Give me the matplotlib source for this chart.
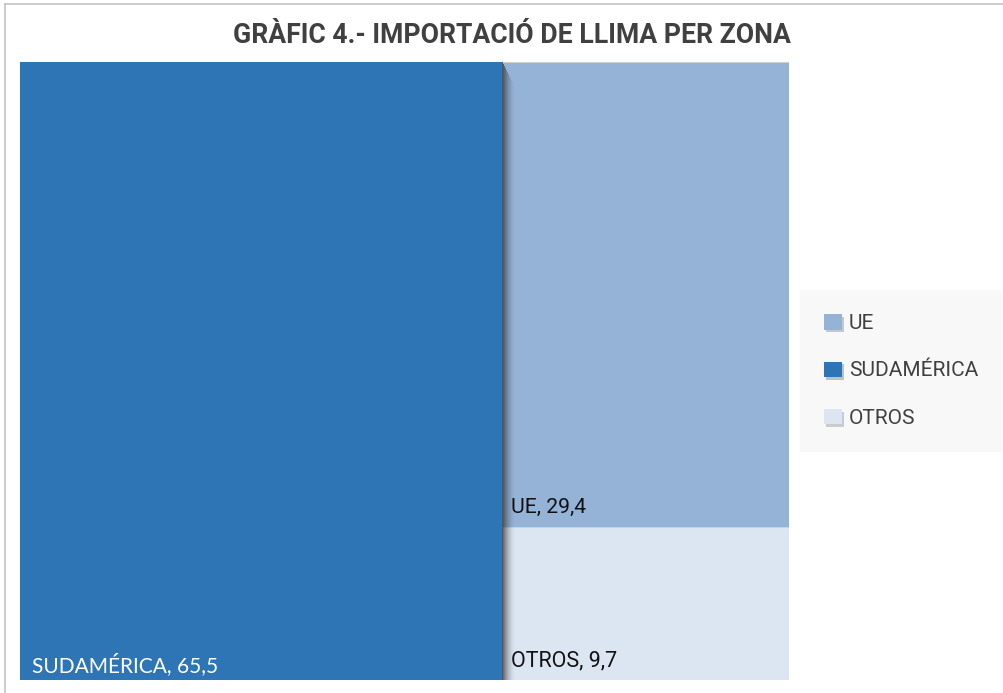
import matplotlib
matplotlib.use("Agg")
import matplotlib.pyplot as plt
import matplotlib.patheffects as pe
from matplotlib.patches import Rectangle, Patch
from matplotlib.lines import Line2D

# data
zones = ["UE", "SUDAMÉRICA", "OTROS"]
values = [29.4, 65.5, 9.7]
colors = ["#95b3d7", "#2e75b6", "#dce6f2"]
label_colors = ["#111111", "#ffffff", "#111111"]

title = "GRÀFIC 4.- IMPORTACIÓ DE LLIMA PER ZONA"

W, H = 1004, 693
fig = plt.figure(figsize=(W / 100, H / 100), dpi=100)
fig.patch.set_facecolor("white")

# outer frame (only top / left visible in the crop)
fig.add_artist(Line2D([5 / W, 5 / W], [0, 1 - 4 / H], transform=fig.transFigure,
                      color="#c4c4c4", lw=1.2))
fig.add_artist(Line2D([5 / W, 1], [1 - 4 / H, 1 - 4 / H], transform=fig.transFigure,
                      color="#c4c4c4", lw=1.2))

fig.text((235 + 788) / 2 / W, 1 - 43 / H, title, ha="center", va="baseline",
         fontsize=19.2, fontweight="bold", family="Roboto", color="#404040")

ax = fig.add_axes([20 / W, 1 - 680 / H, (789 - 20) / W, (680 - 62) / H])
total = sum(values)
ax.set_xlim(0, total)
ax.set_ylim(0, 1)
ax.axis("off")

# treemap layout: biggest item takes a full-height column, the rest are stacked
order = sorted(range(len(values)), key=lambda i: -values[i])
big = order[0]
rest = order[1:]
rects = {}
rects[big] = (0, 0, values[big], 1)
rest_total = sum(values[i] for i in rest)
x0 = values[big]
y_top = 1.0
for i in rest:
    h = values[i] / rest_total
    rects[i] = (x0, y_top - h, total - x0, h)
    y_top -= h

for i in rest:
    x, y, w, h = rects[i]
    ax.add_patch(Rectangle((x, y), w, h, facecolor=colors[i], edgecolor="#d0d0d0",
                           lw=0.7, zorder=1))

# soft shadow to the right of the big block
x, y, w, h = rects[big]
px = total / (789 - 20)
n = 13
for k in range(n):
    a = 0.7 * (1 - k / n) ** 1.7
    ax.add_patch(Rectangle((x + w + k * px, y), px, h - 2.0 * k / (680 - 62),
                           facecolor="#222222", alpha=a, lw=0, zorder=2))
ax.add_patch(Rectangle((x, y), w, h, facecolor=colors[big], edgecolor="none", zorder=3))

# labels
label_fonts = {big: "Lato"}
label_sizes = {big: 15, rest[0]: 15.2, rest[1]: 15.5}
offsets = {big: (9, 6), rest[0]: (7, 10), rest[1]: (7, 9.5)}
for i in range(len(values)):
    x, y, w, h = rects[i]
    txt = f"{zones[i]}, {values[i]:.1f}".replace(".", ",")
    ax.annotate(txt, (x, y), xytext=offsets[i], textcoords="offset points",
                ha="left", va="baseline", fontsize=label_sizes[i],
                family=label_fonts.get(i, "Roboto"), color=label_colors[i], zorder=5)

# legend
handles = [Patch(facecolor=c, edgecolor="none",
                 path_effects=[pe.SimplePatchShadow(offset=(1.5, -2), alpha=0.25), pe.Normal()])
           for c in colors]
leg = fig.legend(handles, zones, loc="center left",
                 bbox_to_anchor=(800 / W, 1 - 371 / H), frameon=True,
                 facecolor="#f7f7f7", edgecolor="none", fancybox=False,
                 prop={"family": "Roboto", "size": 15},
                 handlelength=0.85, handleheight=0.75, handletextpad=0.35,
                 labelspacing=1.36, borderpad=1.15, borderaxespad=0)
for t in leg.get_texts():
    t.set_color("#404040")

fig.savefig("out.png", dpi=100, facecolor="white")
